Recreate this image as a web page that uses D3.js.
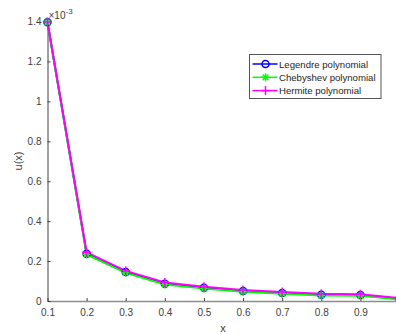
<!DOCTYPE html>
<html>
<head>
<meta charset="utf-8">
<script src="https://cdn.jsdelivr.net/npm/d3@7"></script>
<style>
  body { margin: 0; background: #fff; }
  svg { display: block; font-family: "Liberation Sans", Arial, sans-serif; }
</style>
</head>
<body>
<svg id="chart" width="396" height="334"></svg>
<script>
// values in units of 1e-3
var xs = [0.1, 0.2, 0.3, 0.4, 0.5, 0.6, 0.7, 0.8, 0.9, 1.0];
var legendre = [1.396, 0.237, 0.145, 0.087, 0.066, 0.050, 0.040, 0.031, 0.030, 0.010];
var chebyshev = [1.395, 0.233, 0.141, 0.083, 0.062, 0.046, 0.036, 0.027, 0.026, 0.008];
var hermite = [1.398, 0.244, 0.151, 0.093, 0.071, 0.055, 0.045, 0.036, 0.034, 0.014];
var xTicks = [0.1, 0.2, 0.3, 0.4, 0.5, 0.6, 0.7, 0.8, 0.9];
var yTicks = [0, 0.2, 0.4, 0.6, 0.8, 1, 1.2, 1.4];
var seriesNames = ["Legendre polynomial", "Chebyshev polynomial", "Hermite polynomial"];
var seriesColors = ["#0000ff", "#00ff00", "#ff00ff"];
var seriesMarkers = ["circle", "star", "plus"];

var svg = d3.select("#chart");
var axisColor = "#404040";

var x = d3.scaleLinear().domain([0.1, 1.0]).range([47.5, 399.5]);
var y = d3.scaleLinear().domain([0, 1.4]).range([301, 21.5]);

var series = [legendre, chebyshev, hermite].map(function (vals, i) {
    return {
        name: seriesNames[i],
        color: seriesColors[i],
        marker: seriesMarkers[i],
        points: vals.map(function (v, j) { return [xs[j], v]; })
    };
});

// markers
function drawMarker(g, type, color, cx, cy) {
    if (type === "circle") {
        g.append("circle").attr("cx", cx).attr("cy", cy).attr("r", 3.5)
            .attr("fill", "none").attr("stroke", color).attr("stroke-width", 1.5);
    } else if (type === "star") {
        var r = 4;
        [[r, 0], [0, r], [r * 0.7, r * 0.7], [r * 0.7, -r * 0.7]].forEach(function (d) {
            g.append("line").attr("x1", cx - d[0]).attr("y1", cy - d[1])
                .attr("x2", cx + d[0]).attr("y2", cy + d[1])
                .attr("stroke", color).attr("stroke-width", 1.5);
        });
    } else {
        var s = 4.5;
        g.append("line").attr("x1", cx - s).attr("y1", cy).attr("x2", cx + s).attr("y2", cy)
            .attr("stroke", color).attr("stroke-width", 1.5);
        g.append("line").attr("x1", cx).attr("y1", cy - s).attr("x2", cx).attr("y2", cy + s)
            .attr("stroke", color).attr("stroke-width", 1.5);
    }
}

// axes
var xAxis = d3.axisBottom(x).tickValues(xTicks).tickSizeInner(-3).tickSizeOuter(0)
    .tickFormat(d3.format(".1f")).tickPadding(8);
var gx = svg.append("g").attr("transform", "translate(0,301)").call(xAxis);
gx.select(".domain").attr("stroke", "#8c8c8c").attr("stroke-width", 1.5);
gx.selectAll(".tick line").attr("stroke", axisColor);
gx.selectAll("text").attr("fill", axisColor).style("font-size", "10px");

var yAxis = d3.axisLeft(y).tickValues(yTicks).tickSizeInner(-3).tickSizeOuter(0)
    .tickFormat(function (d) { return d === 0 || d === 1 ? d3.format("d")(d) : d3.format(".1f")(d); })
    .tickPadding(6);
var gy = svg.append("g").attr("transform", "translate(47.5,0)").call(yAxis);
gy.select(".domain").attr("stroke", axisColor);
gy.selectAll(".tick line").attr("stroke", axisColor);
gy.selectAll("text").attr("fill", axisColor).style("font-size", "10px");

// lines
var line = d3.line().x(function (d) { return x(d[0]); }).y(function (d) { return y(d[1]); });
series.forEach(function (s) {
    svg.append("path").datum(s.points).attr("d", line)
        .attr("fill", "none").attr("stroke", s.color).attr("stroke-width", 2);
});
series.forEach(function (s) {
    var g = svg.append("g");
    s.points.forEach(function (p) { drawMarker(g, s.marker, s.color, x(p[0]), y(p[1])); });
});

// labels
svg.append("text").attr("x", 223).attr("y", 332).attr("text-anchor", "middle")
    .attr("fill", axisColor).style("font-size", "11px").text("x");
svg.append("text").attr("transform", "translate(22,161) rotate(-90)").attr("text-anchor", "middle")
    .attr("fill", axisColor).style("font-size", "11px").text("u(x)");
var exp = svg.append("text").attr("x", 48.5).attr("y", 19).attr("fill", axisColor).style("font-size", "10px");
exp.append("tspan").text("\u00d710");
exp.append("tspan").attr("dy", -5).style("font-size", "8px").text("-3");

// legend
var leg = svg.append("g").attr("transform", "translate(249.5,54.5)");
leg.append("rect").attr("width", 131.5).attr("height", 44).attr("fill", "#fff")
    .attr("stroke", "#555").attr("stroke-width", 1);
series.forEach(function (s, i) {
    var ly = 9.5 + i * 13.3;
    leg.append("line").attr("x1", 3).attr("x2", 28).attr("y1", ly).attr("y2", ly)
        .attr("stroke", s.color).attr("stroke-width", 1.5);
    drawMarker(leg, s.marker, s.color, 16, ly);
    leg.append("text").attr("x", 29.5).attr("y", ly + 3.5).attr("fill", "#262626")
        .style("font-size", "9.6px").text(s.name);
});
</script>
</body>
</html>
